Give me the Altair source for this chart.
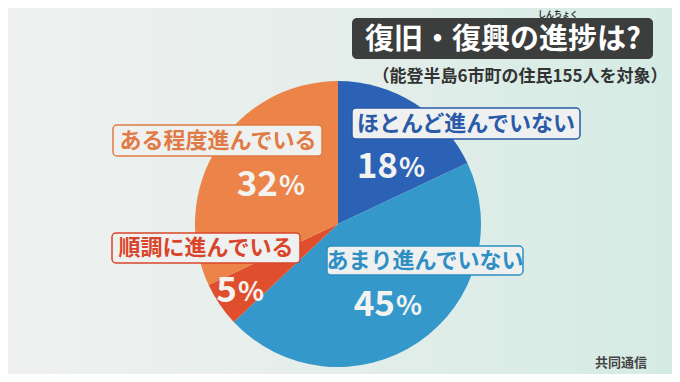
import altair as alt
import pandas as pd

# ---- data ----
categories = ["ほとんど進んでいない", "あまり進んでいない", "順調に進んでいる", "ある程度進んでいる"]
values = [18, 45, 5, 32]
colors = ["#2b62b6", "#3598cb", "#e04f2d", "#ec844a"]
title_text = "復旧・復興の進捗は?"
ruby_text = "しんちょく"
subtitle_text = "（能登半島6市町の住民155人を対象）"
source_text = "共同通信"

df = pd.DataFrame({"cat": categories, "pct": values, "idx": list(range(len(categories)))})
one = pd.DataFrame({"a": [0]})

JP = "Noto Sans CJK JP"
W, H = 664, 366
O = 8  # page margin offset


def px(v):
    return alt.value(v - O)


# background gradient
bg = alt.Chart(one).mark_rect(
    color=alt.Gradient(
        gradient="linear", x1=0, x2=1, y1=0, y2=0,
        stops=[alt.GradientStop(color="#eff1f0", offset=0),
               alt.GradientStop(color="#e6eeeb", offset=0.45),
               alt.GradientStop(color="#d4ebe3", offset=1)],
    )
).encode(x=alt.value(0), x2=alt.value(W), y=alt.value(0), y2=alt.value(H))

# pie
pie = alt.Chart(df).mark_arc(outerRadius=143).encode(
    theta=alt.Theta("pct:Q", stack=True),
    order=alt.Order("idx:Q", sort="ascending"),
    color=alt.Color("cat:N", scale=alt.Scale(domain=categories, range=colors), legend=None),
    x=px(338), y=px(224),
)


def labels(cat, color, box, center, num_right, base_y):
    base = alt.Chart(df).transform_filter(alt.datum.cat == cat)
    x0, x1, y0, y1 = box
    rect = base.mark_rect(cornerRadius=4, fill="#eff1f0", stroke=color, strokeWidth=1.5).encode(
        x=px(x0), x2=px(x1), y=px(y0), y2=px(y1))
    txt = base.mark_text(font=JP, fontWeight="bold", fontSize=22, color=color,
                         align="center", baseline="middle").encode(
        text="cat:N", x=px(center[0]), y=px(center[1]))
    num = base.mark_text(font=JP, fontWeight="bold", fontSize=35, color="#f3f3f1",
                         align="right", baseline="alphabetic").encode(
        text=alt.Text("pct:Q", format="d"), x=px(num_right), y=px(base_y + 4))
    sign = base.mark_text(font=JP, fontWeight="bold", fontSize=27, color="#f3f3f1",
                          align="left", baseline="alphabetic", text="%").encode(
        x=px(num_right + 1), y=px(base_y + 3))
    return [rect, txt, num, sign]


lab = []
lab += labels(categories[0], "#2a5aa8", (352, 580, 108, 139), (466, 124), 398, 174)
lab += labels(categories[1], "#2e8fc4", (327, 523, 246, 275), (425, 261), 395, 312)
lab += labels(categories[2], "#d9452a", (112, 300, 233, 263), (206, 248), 237, 298)
lab += labels(categories[3], "#e07b45", (113, 322, 125, 156), (218, 141), 278, 192)

title_box = alt.Chart(one).mark_rect(cornerRadius=5, fill="#3c3d3d").encode(
    x=px(352), x2=px(653), y=px(18), y2=px(59))
title = alt.Chart(one).mark_text(font=JP, fontWeight="bold", fontSize=29, color="#ffffff",
                                 align="center", baseline="middle", text=title_text).encode(
    x=px(503), y=px(40))
ruby = alt.Chart(one).mark_text(font=JP, fontWeight="bold", fontSize=8, color="#333333",
                                align="center", baseline="middle", text=ruby_text).encode(
    x=px(558), y=px(14.5))
subtitle = alt.Chart(one).mark_text(font=JP, fontWeight="bold", fontSize=17, color="#333333",
                                    align="center", baseline="middle", text=subtitle_text).encode(
    x=px(520), y=px(77))
source = alt.Chart(one).mark_text(font=JP, fontWeight="bold", fontSize=13, color="#444444",
                                  align="center", baseline="middle", text=source_text).encode(
    x=px(621), y=px(363))

chart = alt.layer(bg, pie, *lab, title_box, title, ruby, subtitle, source).properties(
    width=W, height=H, padding=0,
    autosize=alt.AutoSizeParams(type="fit", contains="padding"),
).configure_view(stroke=None)

chart.save("out.html", embed_options={"renderer": "svg", "actions": False})
